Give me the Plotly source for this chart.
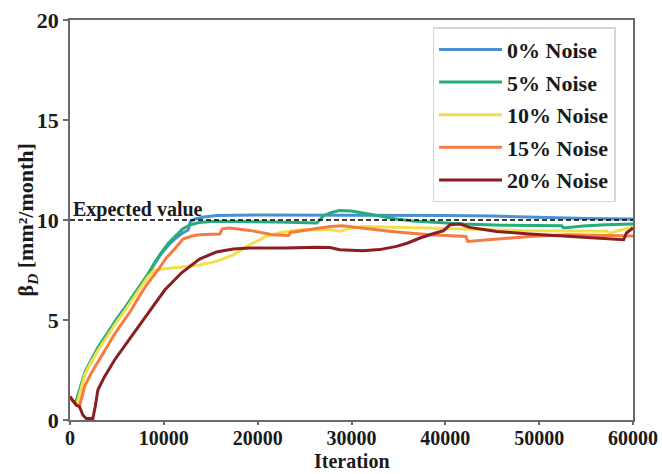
import plotly.graph_objects as go

# ---------------- data ----------------
iter_0 = [0, 300, 600, 1000, 1300, 1600, 2200, 3000, 4000, 4750, 5600, 6500, 7400, 8300, 9000, 9700,
          10500, 11300, 12000, 12600, 12800, 13300, 14300, 15600, 20000, 30000, 40000, 45000, 50000,
          55000, 60000]
beta_0 = [1.15, 0.95, 0.85, 1.4, 1.9, 2.35, 2.9, 3.6, 4.3, 4.85, 5.4, 6.0, 6.65, 7.25, 7.8, 8.3,
          8.75, 9.1, 9.35, 9.5, 9.9, 10.05, 10.15, 10.23, 10.25, 10.25, 10.23, 10.2, 10.13,
          10.08, 10.05]

iter_5 = [0, 300, 600, 1000, 1300, 1600, 2200, 3000, 4000, 4750, 5600, 6500, 7400, 8300, 9000, 9700,
          10500, 11300, 12000, 12800, 13800, 15000, 18000, 22000, 26300, 26600, 27000, 27700, 28700,
          30000, 31200, 33000, 34800, 36500, 38400, 42000, 46000, 50000, 52400, 52600, 54700, 57000,
          60000]
beta_5 = [1.15, 0.95, 0.85, 1.45, 1.95, 2.4, 2.95, 3.65, 4.35, 4.9, 5.45, 6.05, 6.7, 7.3, 7.85, 8.35,
          8.85, 9.25, 9.55, 9.75, 9.88, 9.92, 9.93, 9.9, 9.85, 10.0, 10.2, 10.35, 10.47,
          10.45, 10.35, 10.2, 10.05, 9.95, 9.9, 9.8, 9.74, 9.72, 9.71, 9.6, 9.7, 9.76,
          9.8]

iter_10 = [0, 300, 700, 1000, 1300, 1600, 2200, 3000, 4000, 4750, 5600, 6500, 7400, 8300, 9000, 10000,
           12000, 13800, 15600, 17400, 19150, 20900, 22700, 24500, 27000, 28000, 28900, 29800, 31200,
           34800, 38000, 41900, 45800, 49000, 53000, 57200, 57560, 58300, 60000]
beta_10 = [1.15, 0.95, 0.75, 1.3, 1.8, 2.3, 2.85, 3.5, 4.2, 4.75, 5.3, 5.9, 6.55, 7.15, 7.5, 7.55,
           7.63, 7.75, 7.93, 8.26, 8.76, 9.18, 9.4, 9.51, 9.52, 9.5, 9.44, 9.58, 9.68,
           9.65, 9.6, 9.55, 9.5, 9.46, 9.45, 9.44, 9.34, 9.45, 9.65]

iter_15 = [0, 300, 700, 1010, 1300, 1550, 2260, 3000, 4000, 4750, 5600, 6530, 7400, 8300, 9370, 10260,
           11150, 12040, 13000, 13820, 15950, 16240, 17020, 19150, 21640, 23300, 23500, 24500, 26270,
           27700, 29000, 31200, 34800, 38360, 42200, 42400, 45470, 49000, 53000, 57000, 60000]
beta_15 = [1.15, 0.95, 0.75, 0.7, 1.2, 1.67, 2.34, 2.9, 3.7, 4.3, 4.9, 5.5, 6.2, 6.85, 7.5, 8.1,
           8.55, 9.05, 9.2, 9.26, 9.3, 9.56, 9.6, 9.48, 9.26, 9.23, 9.38, 9.45, 9.6,
           9.68, 9.71, 9.6, 9.4, 9.26, 9.18, 8.93, 9.05, 9.18, 9.26, 9.24, 9.2]

iter_20 = [0, 660, 1010, 1370, 1730, 2430, 2690, 2970, 3680, 4750, 6530, 8300, 10100, 11860, 13800,
           15600, 17400, 19150, 23000, 26270, 27700, 28750, 31200, 33000, 34800, 36000, 37300, 38600,
           39780, 40500, 41560, 42600, 44000, 45470, 49000, 52950, 56500, 59000, 59300, 60000]
beta_20 = [1.17, 0.75, 0.67, 0.25, 0.07, 0.07, 0.67, 1.5, 2.17, 3.0, 4.17, 5.34, 6.5, 7.35, 8.05,
           8.4, 8.55, 8.6, 8.6, 8.64, 8.62, 8.51, 8.46, 8.52, 8.68, 8.85, 9.1, 9.3,
           9.46, 9.76, 9.8, 9.63, 9.52, 9.43, 9.3, 9.18, 9.06, 9.01, 9.35, 9.6]

series_names = ["0% Noise", "5% Noise", "10% Noise", "15% Noise", "20% Noise"]
series_iters = [iter_0, iter_5, iter_10, iter_15, iter_20]
series_betas = [beta_0, beta_5, beta_10, beta_15, beta_20]
series_colors = ["#4a8fd0", "#22ae7a", "#f2df4a", "#f57b40", "#8b1e22"]

expected_value = 10
x_ticks = [0, 10000, 20000, 30000, 40000, 50000, 60000]
y_ticks = [0, 5, 10, 15, 20]
x_title = "Iteration"
y_title = "β<sub><i>D</i></sub> [mm²/month]"

FONT = "Liberation Serif, Times New Roman, serif"
TXT = "#1a1a1a"

fig = go.Figure()
for name, xs, ys, col in zip(series_names, series_iters, series_betas, series_colors):
    fig.add_trace(go.Scatter(x=xs, y=ys, mode="lines", name=name, legendgroup=name,
                             line=dict(color=col, width=3)))

fig.add_trace(go.Scatter(x=[x_ticks[0], x_ticks[-1]], y=[expected_value, expected_value],
                         mode="lines", showlegend=False, hoverinfo="skip",
                         line=dict(color="black", width=1.5, dash="5px,3px")))

fig.add_annotation(x=0, y=expected_value, xref="x", yref="y", text="Expected value",
                   showarrow=False, xanchor="left", yanchor="bottom", xshift=1, yshift=-3,
                   font=dict(family=FONT, size=20, color=TXT, weight="bold"))

# axis titles placed as annotations for exact positioning
fig.add_annotation(x=0.5, y=-0.1345, xref="paper", yref="paper", text=x_title,
                   showarrow=False, xanchor="center", yanchor="bottom",
                   font=dict(family=FONT, size=20, color=TXT, weight="bold"))
fig.add_annotation(x=-0.0756, y=0.5, xref="paper", yref="paper", text=y_title,
                   showarrow=False, xanchor="center", yanchor="middle", textangle=-90,
                   font=dict(family=FONT, size=22, color=TXT, weight="bold"))

axis_common = dict(showline=True, linecolor="#6a6a6a", linewidth=1.5, mirror=True,
                   ticks="outside", tickwidth=1.5, tickcolor="#6a6a6a",
                   showgrid=False, zeroline=False, automargin=False)

fig.update_xaxes(range=[0, 60000], tickvals=x_ticks, ticktext=[str(v) for v in x_ticks],
                 ticklen=3, ticklabelstandoff=-4,
                 tickfont=dict(family=FONT, size=20, color=TXT, weight="bold"),
                 **axis_common)
fig.update_yaxes(range=[0, 20], tickvals=y_ticks, ticktext=[str(v) for v in y_ticks],
                 ticklen=5,
                 tickfont=dict(family=FONT, size=22, color=TXT, weight="bold"),
                 **axis_common)

fig.update_layout(
    width=662, height=474,
    margin=dict(l=70, r=29, t=20, b=54),
    plot_bgcolor="white", paper_bgcolor="white",
    legend=dict(x=0.644, y=0.982, xanchor="left", yanchor="top",
                bgcolor="white", bordercolor="#d6d6d6", borderwidth=1.5,
                tracegroupgap=1, itemwidth=63,
                font=dict(family=FONT, size=22, color=TXT, weight="bold")),
)

fig.write_html("out.html")
